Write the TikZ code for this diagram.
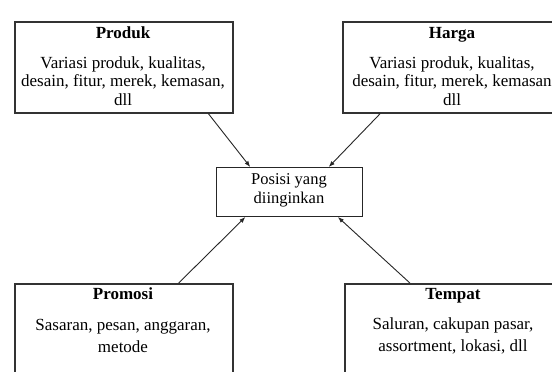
\documentclass[tikz,border=0pt]{standalone}
\usepackage{fontspec}
\setmainfont{Liberation Serif}
\usetikzlibrary{arrows.meta,calc}
\begin{document}
\begin{tikzpicture}[x=1pt,y=-1pt,
  box/.style={draw=black!80,line width=1.6pt,rectangle,anchor=north west,inner sep=0pt},
  ttl/.style={font=\fontsize{17}{19}\selectfont\bfseries,anchor=base},
  body/.style={font=\fontsize{17}{18.8}\selectfont,align=center,anchor=center},
  bodyb/.style={font=\fontsize{17}{22}\selectfont,align=center,anchor=center},
  ctr/.style={font=\fontsize{16.5}{18.5}\selectfont,align=center,anchor=center},
  arr/.style={draw=black!85,line width=0.9pt,-{Latex[length=6pt,width=4.5pt]}}]
\path[use as bounding box,fill=white] (0,0) rectangle (552,372);
\begin{scope}
\clip (0,0) rectangle (552,372);
\node[box,minimum width=218pt,minimum height=91pt] (produk) at (14,21) {};
\node[box,minimum width=218pt,minimum height=91pt] (harga) at (342,21) {};
\node[box,minimum width=218pt,minimum height=120pt] (promosi) at (14,283) {};
\node[box,minimum width=218pt,minimum height=120pt] (tempat) at (344,283) {};
\node[draw=black!85,line width=1pt,rectangle,anchor=north west,minimum width=146pt,minimum height=49pt] (pos) at (216,167) {};
\end{scope}
\node[ttl] (tprod) at (123,38) {Produk};
\node[body] (bprod) at (123,81) {Variasi produk, kualitas,\\desain, fitur, merek, kemasan,\\dll};
\node[ttl] (tharg) at (452,38) {Harga};
\node[body] (bharg) at (452,81) {Variasi produk, kualitas,\\desain, fitur, merek, kemasan\\dll};
\node[ttl] (tprom) at (123,299) {Promosi};
\node[bodyb] (bprom) at (123,336) {Sasaran, pesan, anggaran,\\metode};
\node[ttl] (ttemp) at (453,299) {Tempat};
\node[bodyb] (btemp) at (453,336) {Saluran, cakupan pasar,\\assortment, lokasi, dll};
\node[ctr] (tpos) at (289,190.5) {Posisi yang\\diinginkan};
\draw[arr] ($(produk.south west)!0.885!(produk.south east)$) -- ($(pos.north west)!0.233!(pos.north east)$);
\draw[arr] ($(harga.south west)!0.174!(harga.south east)$) -- ($(pos.north west)!0.767!(pos.north east)$);
\draw[arr] ($(promosi.north west)!0.75!(promosi.north east)$) -- ($(pos.south west)!0.2!(pos.south east)$);
\draw[arr] ($(tempat.north west)!0.30!(tempat.north east)$) -- ($(pos.south west)!0.829!(pos.south east)$);
\end{tikzpicture}
\end{document}
